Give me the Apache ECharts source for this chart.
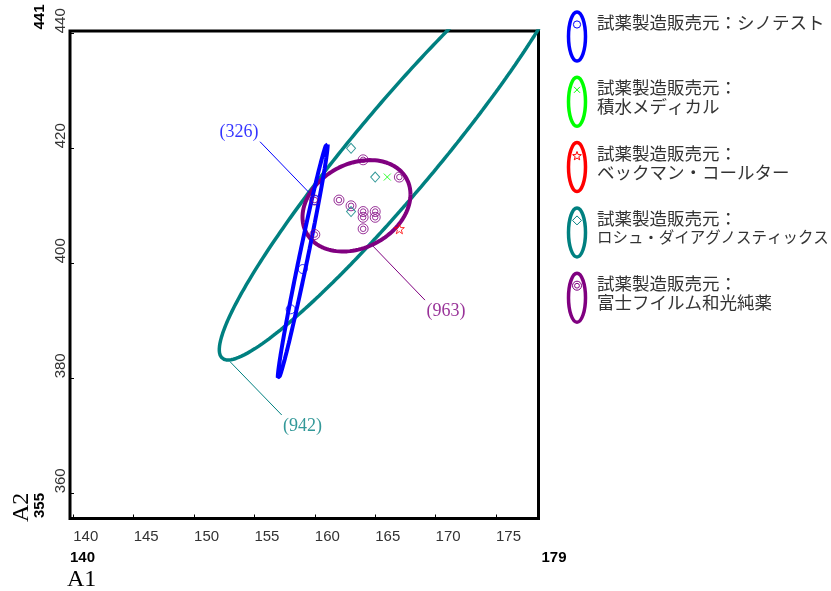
<!DOCTYPE html>
<html><head><meta charset="utf-8">
<script src="https://cdn.jsdelivr.net/npm/echarts@6/dist/echarts.min.js"></script>
<style>html,body{margin:0;padding:0;background:#fff}#c{width:831px;height:591px}</style>
</head><body><div id="c"></div>
<script>
// ---- data ----
const legendPrefix = '試薬製造販売元：';
const makers = ['シノテスト', '積水メディカル', 'ベックマン・コールター', 'ロシュ・ダイアグノスティックス', '富士フイルム和光純薬'];
const colors = ['#0000ff', '#00ff00', '#ff0000', '#008080', '#800080'];
const pointsSinotest = [[160, 411], [159, 399], [158, 392]];
const pointsSekisui = [[166, 415]];
const pointsBeckman = [[167, 406]];
const pointsRoche = [[163, 420], [165, 415], [163, 409]];
const pointsFujifilm = [[164, 418], [167, 415], [162, 411], [163, 410], [164, 409], [164, 408], [165, 409], [165, 408], [164, 406], [160, 405], [160, 411]];
// ellipse parameters: [centerX, centerY, spreadX, spreadY, correlation]
const ellipseSinotest = [159.0, 400.4, 2.07, 20.6, 0.985];
const ellipseRoche = [166.77, 419.7, 14.68, 36.52, 0.951];
const ellipseFujifilm = [163.45, 410.0, 4.47, 7.95, 0.25];
// annotation labels: text, line from, line to, label centre (data units)
const annotationTexts = ['(326)', '(963)', '(942)'];
const annotationFrom = [[159.52, 412.31], [164.73, 403.18], [152.98, 382.89]];
const annotationTo = [[155.46, 421.15], [169.12, 393.6], [157.26, 373.62]];
const annotationAt = [[153.72, 422.83], [170.86, 391.7], [158.98, 371.7]];
const annotationColors = ['#0000ff', '#800080', '#008080'];
const xTicks = [140, 145, 150, 155, 160, 165, 170, 175];
const yTicks = [360, 380, 400, 420, 440];
const xRange = [139.73, 178.52];
const yRange = [355.62, 440.4];
const xEndLabels = ['140', '179'];
const yEndLabels = ['355', '441'];
const xTitle = 'A1', yTitle = 'A2';

// ---- build ----
function ellipsePts(p) {
  const [mx, my, sx, sy, r] = p;
  const d = Math.acos(r);
  const out = [];
  for (let i = 0; i <= 360; i++) {
    const t = i * Math.PI / 180;
    out.push([mx + sx * Math.cos(t), my + sy * Math.cos(t - d)]);
  }
  return out;
}
const SYM_DOUBLE = 'path://M-10,0A10,10 0 1,1 10,0A10,10 0 1,1 -10,0ZM-5.5,0A5.5,5.5 0 1,1 5.5,0A5.5,5.5 0 1,1 -5.5,0Z';
const SYM_STAR = 'path://M0,-10L2.35,-3.24L9.51,-3.09L3.8,1.24L5.88,8.09L0,4L-5.88,8.09L-3.8,1.24L-9.51,-3.09L-2.35,-3.24Z';
const SYM_X = 'path://M-5,-5L5,5M-5,5L5,-5';

function ellSeries(p, color, w) {
  return { type: 'line', data: ellipsePts(p), showSymbol: false, symbol: 'none', smooth: false,
    lineStyle: { color: color, width: w }, clip: true, silent: true, z: 2 };
}
function ptSeries(d, sym, size, color) {
  return { type: 'scatter', data: d, symbol: sym, symbolSize: size,
    itemStyle: { color: 'transparent', borderColor: color, borderWidth: 1 }, z: 3, silent: true };
}
const series = [
  ellSeries(ellipseRoche, colors[3], 3.5),
  ellSeries(ellipseFujifilm, colors[4], 4),
  ellSeries(ellipseSinotest, colors[0], 4),
  ptSeries(pointsFujifilm, SYM_DOUBLE, 10, colors[4]),
  ptSeries(pointsRoche, 'diamond', [9, 10], colors[3]),
  ptSeries(pointsSinotest, 'circle', 9, colors[0]),
  ptSeries(pointsSekisui, SYM_X, 7, colors[1]),
  ptSeries(pointsBeckman, SYM_STAR, 10, colors[2])
];
annotationTexts.forEach((t, i) => {
  series.push({ type: 'line', data: [annotationFrom[i], annotationTo[i]], showSymbol: false, symbol: 'none',
    lineStyle: { color: annotationColors[i], width: 1 }, silent: true, z: 4 });
  series.push({ type: 'scatter', data: [annotationAt[i]], symbolSize: 1, itemStyle: { color: 'transparent' },
    label: { show: true, position: 'inside', formatter: t, color: annotationColors[i],
      fontFamily: 'Liberation Serif', fontSize: 18 }, silent: true, z: 5 });
});

// legend graphic
const graphic = [];
makers.forEach((m, i) => {
  const cy = 36.5 + 65.3 * i, cx = 577, c = colors[i], my = cy - 12;
  graphic.push({ type: 'ellipse', shape: { cx: cx, cy: cy, rx: 8.5, ry: 24.5 },
    style: { fill: 'none', stroke: c, lineWidth: 3.5 } });
  const st = { fill: 'none', stroke: c, lineWidth: 1 };
  if (i === 0) graphic.push({ type: 'circle', shape: { cx: cx, cy: my, r: 3.6 }, style: st });
  if (i === 1) { graphic.push({ type: 'line', shape: { x1: cx - 3, y1: my - 3, x2: cx + 3, y2: my + 3 }, style: st });
    graphic.push({ type: 'line', shape: { x1: cx - 3, y1: my + 3, x2: cx + 3, y2: my - 3 }, style: st }); }
  if (i === 2) { const pts = []; for (let k = 0; k < 10; k++) { const a = -Math.PI / 2 + k * Math.PI / 5, rr = k % 2 ? 1.9 : 4.6;
      pts.push([cx + rr * Math.cos(a), my + 1 + rr * Math.sin(a)]); }
    graphic.push({ type: 'polygon', shape: { points: pts }, style: st }); }
  if (i === 3) graphic.push({ type: 'polygon', shape: { points: [[cx, my - 4.5], [cx + 4.5, my], [cx, my + 4.5], [cx - 4.5, my]] }, style: st });
  if (i === 4) { graphic.push({ type: 'circle', shape: { cx: cx, cy: my, r: 4.5 }, style: st });
    graphic.push({ type: 'circle', shape: { cx: cx, cy: my, r: 2.4 }, style: st }); }
  const font = (s, fs) => ({ text: s, fill: '#333', fontFamily: 'Noto Sans CJK JP', fontSize: fs, align: 'left', verticalAlign: 'middle' });
  if (i === 0) {
    graphic.push({ type: 'text', x: 597, y: cy - 14.5, style: font(legendPrefix + m, 17.5) });
  } else {
    graphic.push({ type: 'text', x: 597, y: cy - 14, style: font(legendPrefix, 17.5) });
    graphic.push({ type: 'text', x: 597, y: cy + 5, style: font(m, Math.min(17.5, 232 / m.length)) });
  }
});
const boldStyle = (s) => ({ text: s, fill: '#000', fontFamily: 'Liberation Sans', fontWeight: 'bold', fontSize: 15, align: 'left', verticalAlign: 'middle' });
graphic.push({ type: 'text', x: 70, y: 557.5, style: boldStyle(xEndLabels[0]) });
graphic.push({ type: 'text', x: 541.5, y: 558, style: boldStyle(xEndLabels[1]) });
graphic.push({ type: 'text', x: 39.5, y: 518, rotation: Math.PI / 2, style: boldStyle(yEndLabels[0]) });
graphic.push({ type: 'text', x: 39.5, y: 29.5, rotation: Math.PI / 2, style: boldStyle(yEndLabels[1]) });
const titleStyle = (s) => ({ text: s, fill: '#000', fontFamily: 'Liberation Serif', fontSize: 24, align: 'left', verticalAlign: 'middle' });
graphic.push({ type: 'text', x: 67, y: 580, style: titleStyle(xTitle) });
graphic.push({ type: 'text', x: 22, y: 522, rotation: Math.PI / 2, style: titleStyle(yTitle) });

const chart = echarts.init(document.getElementById('c'), null, { renderer: 'canvas' });
chart.setOption({
  animation: false,
  backgroundColor: '#fff',
  grid: { left: 70, top: 31, right: 292.5, bottom: 72.5, show: true, borderColor: '#000', borderWidth: 3,
    containLabel: false, outerBoundsMode: 'none' },
  xAxis: { type: 'value', min: xRange[0], max: xRange[1],
    axisLine: { show: false },
    axisTick: { show: true, inside: true, length: 4, customValues: xTicks, lineStyle: { color: '#000', width: 1 } },
    axisLabel: { customValues: xTicks, align: 'left', margin: 11, color: '#333', fontFamily: 'Liberation Sans', fontSize: 15 },
    splitLine: { show: false } },
  yAxis: { type: 'value', min: yRange[0], max: yRange[1],
    axisLine: { show: false },
    axisTick: { show: true, inside: true, length: 4, customValues: yTicks, lineStyle: { color: '#000', width: 1 } },
    axisLabel: { customValues: yTicks, rotate: 90, align: 'left', verticalAlign: 'bottom', margin: 2, color: '#333', fontFamily: 'Liberation Sans', fontSize: 15 },
    splitLine: { show: false } },
  series: series,
  graphic: graphic
});
</script></body></html>
